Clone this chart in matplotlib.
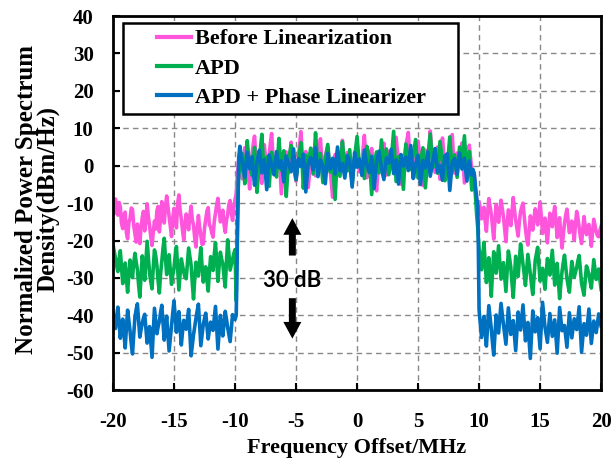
import numpy as np
import matplotlib.pyplot as plt
from matplotlib.legend_handler import HandlerLine2D

plt.rcParams['font.family'] = ['Liberation Serif', 'DejaVu Serif']
plt.rcParams['font.weight'] = 'bold'
plt.rcParams['axes.unicode_minus'] = False

# frequency grid of the analyser trace, MHz (0.1 MHz steps)
freq = np.linspace(-20, 20, 401)

# Before Linearization
before_lo = [-10.5, -12.8, -8.9, -11.6, -13.2, -9.8, -11.0, -15.4, -16.8, -13.1,
             -12.4, -17.9, -19.5, -15.2, -14.1, -11.3, -11.7, -16.0, -18.2, -20.4,
             -15.6, -18.3, -20.8, -16.5, -13.9, -12.2, -17.4, -14.7, -10.2, -13.6,
             -16.1, -19.0, -21.3, -17.8, -14.8, -16.9, -12.0, -10.9, -17.7, -14.3,
             -9.6, -12.5, -15.3, -11.2, -8.1, -10.7, -13.5, -16.2, -18.9, -14.0,
             -11.4, -13.8, -16.6, -10.1, -7.8, -11.9, -14.2, -17.3, -19.8, -15.5,
             -12.9, -15.0, -17.1, -13.4, -10.8, -14.4, -15.9, -19.3, -21.7, -17.0,
             -13.3, -16.3, -18.6, -21.0, -20.9, -16.7, -14.5, -12.1, -11.2, -15.8,
             -16.4, -18.0, -19.1, -14.9, -12.6, -10.4, -8.7, -11.8, -15.0, -13.7,
             -11.9, -15.6, -17.8, -14.6, -13.0, -10.3, -9.3, -12.7, -14.6, -11.5,
             -9.1]
before_edge_lo = [-7.5, -2.0, 1.5]
before_band = [2.1, -0.9, -3.5, 1.2, 4.8, 2.0, 0.6, -2.8, -6.2, -1.0,
               3.3, 5.9, 7.9, 2.7, -1.4, 0.3, 1.8, -2.2, -4.7, 0.9,
               5.6, 2.4, -0.8, 1.6, 2.9, 6.1, 8.6, 3.0, -2.3, -0.7,
               0.4, 3.2, 4.1, -1.8, -7.5, -3.1, 1.2, 2.8, 3.7, 0.1,
               -1.9, 2.5, 6.3, 3.4, 0.9, -1.7, -4.1, -0.6, 2.5, 5.8,
               9.1, 4.0, -0.3, 1.9, 3.8, -1.2, -5.8, -2.0, 1.5, 3.1,
               4.4, 0.8, -2.7, -0.9, 0.2, 4.3, 7.2, 2.2, -3.9, -0.4,
               2.6, 4.0, 5.1, 1.7, -1.1, -4.6, -8.4, -2.4, 3.0, 2.3,
               1.7, 0.4, -0.6, 3.1, 6.8, 2.6, -2.1, 0.7, 3.5, 1.9,
               0.8, -1.5, -4.4, -0.8, 2.2, 4.0, 5.9, 1.3, -1.6, -0.2,
               0.5, 4.6, 8.1, 2.9, -3.2, -0.5, 1.9, 3.3, 4.6, 1.4,
               -0.9, -3.6, -6.7, -1.9, 2.8, 1.0, 0.1, 3.2, 6.0, 2.1,
               -2.5, 0.6, 3.9, 2.2, 1.0, -0.4, -1.3, 3.0, 7.6, 4.1,
               2.4, -1.2, -4.9, -1.6, 0.7, 2.9, 5.3, 7.1, 8.9, 3.6,
               -0.4, 1.5, 3.1, 0.2, -2.9, 1.7, 6.6, 3.8, 1.4, -1.9,
               -5.3, -0.7, 4.2, 2.1, 0.3, 4.4, 9.3, 5.0, 2.0, 0.0,
               -1.8, 1.6, 5.0, 0.9, -3.6, 1.8, 7.4, 3.5, 1.1, 0.4,
               -0.2, 2.3, 4.5, 6.5, 8.3, 2.9, -2.0, 0.5, 3.4, 1.8,
               0.0, 3.2, 6.1, 0.8, -4.6, -0.8, 2.7, 4.0, 5.5, 2.3,
               -1.0, -2.5]
before_edge_hi = [-2.0, -6.0, -9.0, -10.5]
before_hi = [-9.6, -11.5, -14.2, -12.0, -11.1, -14.8, -17.5, -12.6, -8.8, -10.9,
             -12.9, -16.2, -19.6, -14.7, -10.4, -12.8, -15.1, -11.9, -9.2, -11.4,
             -13.7, -17.0, -20.3, -15.5, -11.8, -13.2, -16.0, -12.1, -8.5, -11.7,
             -14.6, -16.7, -18.8, -15.0, -12.3, -11.0, -10.0, -13.4, -16.9, -19.5,
             -21.2, -17.6, -13.4, -15.2, -17.2, -14.1, -11.5, -13.8, -15.8, -12.6,
             -9.7, -13.5, -18.1, -16.0, -14.0, -17.7, -20.6, -16.1, -12.7, -14.4,
             -16.3, -13.1, -10.9, -14.8, -19.2, -16.4, -13.9, -18.3, -22.0, -18.5,
             -15.4, -13.2, -11.6, -14.9, -17.9, -16.0, -14.8, -17.4, -19.9, -15.6,
             -12.2, -14.0, -16.6, -19.0, -20.8, -16.9, -13.6, -16.2, -18.4, -16.8,
             -15.7, -18.6, -21.5, -17.7, -14.3, -15.9, -17.6, -18.7, -19.0, -17.3,
             -16.2]

# APD
apd_lo = [-21.0, -22.9, -24.6, -26.8, -28.3, -25.1, -22.7, -27.0, -31.5, -28.4,
          -26.0, -30.2, -33.8, -29.1, -25.2, -27.6, -29.9, -26.1, -23.4, -25.7,
          -27.7, -31.8, -35.1, -29.4, -24.1, -27.0, -30.6, -25.3, -20.2, -24.5,
          -28.8, -31.0, -32.9, -27.2, -22.5, -24.0, -26.7, -30.8, -34.0, -29.0,
          -25.5, -22.1, -19.4, -24.6, -29.1, -26.3, -23.8, -28.0, -31.7, -29.2,
          -27.3, -24.0, -21.6, -27.5, -33.2, -28.9, -24.9, -26.6, -28.4, -29.8,
          -30.2, -26.0, -22.0, -24.3, -26.5, -31.4, -35.6, -30.3, -25.8, -27.6,
          -29.5, -25.4, -21.9, -26.8, -31.1, -28.7, -27.0, -30.5, -33.5, -28.6,
          -24.3, -26.2, -28.0, -23.7, -20.6, -25.5, -30.9, -26.8, -23.1, -24.9,
          -26.2, -29.6, -32.4, -25.7, -19.8, -23.6, -27.9, -26.4, -25.0, -23.5,
          -22.4]
apd_edge_lo = [-36.0, -14.0, -2.0]
apd_band = [-1.5, 1.0, 3.2, -0.6, -4.8, 0.9, 6.7, 3.1, 0.3, -1.4,
            -2.6, 1.5, 4.9, -0.8, -7.1, -2.9, 1.6, 5.2, 8.4, 2.7,
            -0.7, 0.9, 2.3, -1.9, -5.5, -0.9, 3.6, 2.2, 0.9, -1.2,
            -3.0, 2.1, 7.3, 2.8, -1.2, 1.3, 4.0, -2.4, -8.2, -2.8,
            2.0, 3.7, 5.4, 2.3, -0.5, -2.1, -3.8, -1.0, 1.3, 3.9,
            6.2, 0.5, -6.0, -1.6, 2.8, 1.5, 0.4, 2.6, 4.7, 1.1,
            -2.2, 3.4, 8.8, 4.0, -0.1, 1.6, 3.3, -0.7, -4.5, -1.3,
            1.8, 3.8, 5.7, 1.9, -1.7, -0.5, 0.6, -4.4, -9.0, -2.5,
            3.9, 0.6, -2.8, 1.8, 6.4, 3.1, 0.2, -0.6, -1.4, 1.5,
            4.3, -0.4, -5.1, -1.5, 2.1, 5.0, 7.8, 3.6, -0.3, 0.4,
            1.0, -1.2, -3.4, 0.9, 5.2, 3.9, 2.6, -2.6, -7.7, -3.4,
            0.8, 2.2, 3.7, 0.9, -1.9, 2.5, 6.9, 3.0, -0.8, 1.9,
            4.5, 1.0, -2.4, -0.5, 1.4, 5.3, 9.2, 2.5, -4.2, -0.9,
            2.4, 1.2, 0.0, -3.1, -6.3, -0.2, 5.8, 3.8, 1.7, 0.3,
            -1.0, 1.0, 3.0, 5.0, 7.0, 1.8, -3.3, -1.3, 0.7, 2.8,
            4.8, -0.5, -5.9, -1.8, 2.2, 5.4, 8.5, 3.9, -0.6, 1.5,
            3.5, 0.7, -2.0, 2.2, 6.5, 3.8, 1.2, -1.4, -4.0, -1.9,
            0.1, 3.9, 7.7, 3.1, -1.5, 0.7, 2.9, 0.0, -3.1, 0.9,
            5.0, 2.7, 0.5, 4.3, 8.0, 2.6, -2.7, 0.6, 3.8, -1.3,
            -6.5, -3.0]
apd_edge_hi = [-3.0, -8.0, -13.0, -17.0]
apd_hi = [-22.3, -25.1, -27.8, -23.9, -20.5, -25.9, -31.2, -27.7, -24.6, -29.8,
          -34.9, -28.6, -23.0, -25.8, -28.7, -24.9, -21.4, -25.7, -30.3, -28.1,
          -25.9, -29.8, -33.6, -28.0, -22.8, -24.7, -27.1, -31.4, -35.2, -29.5,
          -24.2, -26.8, -29.6, -25.1, -20.9, -23.4, -26.4, -29.0, -32.0, -27.7,
          -23.7, -26.2, -28.9, -31.8, -34.4, -29.7, -25.3, -23.5, -21.8, -26.3,
          -30.8, -28.9, -27.4, -30.4, -33.0, -28.6, -24.8, -26.9, -29.2, -25.8,
          -22.6, -27.1, -31.9, -28.8, -26.1, -30.9, -35.5, -31.6, -28.2, -25.9,
          -23.9, -27.0, -30.1, -32.1, -33.8, -29.5, -25.6, -27.7, -29.8, -28.4,
          -27.2, -25.4, -24.0, -27.9, -31.5, -33.1, -34.6, -30.5, -26.8, -27.8,
          -29.0, -31.0, -32.7, -28.8, -25.1, -27.7, -30.4, -28.9, -27.6, -30.5,
          -33.1]

# APD + Phase Linearizer
lin_lo = [-39.2, -41.5, -43.5, -40.4, -37.8, -42.0, -46.1, -43.3, -41.0, -45.0,
          -48.7, -43.4, -38.6, -41.3, -44.2, -47.6, -50.3, -45.1, -40.5, -38.4,
          -36.9, -41.5, -45.8, -43.8, -42.1, -40.7, -39.7, -43.6, -47.4, -45.0,
          -43.0, -47.2, -51.2, -44.4, -38.1, -41.5, -44.9, -43.0, -41.6, -39.2,
          -37.3, -42.1, -46.6, -43.2, -40.2, -45.0, -49.5, -46.0, -42.8, -39.3,
          -36.1, -40.4, -44.5, -41.6, -39.0, -43.6, -47.9, -44.4, -41.3, -42.6,
          -43.7, -41.0, -38.4, -44.7, -50.8, -47.9, -45.2, -42.9, -40.8, -38.8,
          -37.0, -42.6, -48.1, -45.2, -42.4, -40.9, -39.4, -43.0, -46.3, -43.9,
          -41.8, -43.0, -44.0, -40.8, -37.6, -43.4, -49.0, -44.4, -40.0, -42.9,
          -45.5, -42.2, -38.9, -41.0, -43.3, -45.2, -47.0, -43.3, -39.8, -40.4,
          -41.1]
lin_edge_lo = [-40.0, -18.0, 2.0]
lin_band = [5.2, 2.8, 1.0, -1.2, -3.1, 0.4, 3.6, 1.3, -0.8, 0.9,
            2.4, -1.6, -5.2, -2.1, 0.9, 2.6, 4.1, 1.0, -1.9, -0.1,
            1.7, -2.4, -6.4, -1.8, 2.9, 1.5, 0.2, -1.1, -2.4, 0.7,
            3.8, 1.6, -0.5, 0.4, 1.3, -1.5, -4.3, -0.8, 2.6, 1.4,
            0.4, -0.6, -1.6, 1.5, 4.5, 0.5, -3.6, -0.9, 1.9, 0.8,
            -0.2, 1.5, 3.1, -2.0, -7.0, -3.1, 0.8, 1.5, 2.2, 0.6,
            -1.1, 1.9, 4.8, 0.9, -2.9, -0.7, 1.5, 0.7, 0.0, -2.4,
            -4.8, -0.8, 3.3, 1.2, -0.9, 0.6, 2.0, 0.0, -2.2, 1.4,
            5.0, 1.8, -1.4, -0.4, 0.6, -1.4, -3.3, -0.3, 2.7, 1.9,
            1.1, -2.3, -5.7, -1.1, 3.5, 1.5, -0.4, 0.7, 1.8, -0.4,
            -2.6, 0.8, 4.2, 2.2, 0.3, -0.8, -1.8, 0.4, 2.5, -1.8,
            -6.1, -2.4, 1.2, 2.6, 3.9, 1.6, -0.7, -2.2, -3.7, -0.8,
            2.1, 1.4, 0.7, 2.6, 4.4, 1.2, -2.1, -0.3, 1.6, -1.7,
            -4.9, -0.9, 3.0, 1.4, -0.1, 1.1, 2.3, 0.5, -1.3, 2.0,
            5.4, 1.0, -3.4, -1.5, 0.5, 1.7, 2.8, -1.1, -5.0, -1.8,
            1.4, 0.4, -0.6, 1.6, 3.7, 0.5, -2.8, -0.9, 1.0, 2.8,
            4.6, 1.5, -1.7, -0.8, 0.1, -1.9, -3.9, -0.7, 2.6, 2.9,
            3.2, -1.7, -6.6, -2.9, 0.9, 1.4, 1.9, -0.2, -2.3, 0.6,
            3.4, 1.3, -0.9, 0.6, 2.0, -1.1, -4.1, -1.4, 1.3, -0.6,
            -2.5, -1.0]
lin_edge_hi = [-2.0, -5.5, -8.5, -11.0]
lin_hi = [-38.5, -42.3, -45.9, -43.0, -40.3, -44.5, -48.2, -42.6, -37.4, -40.6,
          -43.6, -47.3, -50.6, -45.0, -39.9, -42.4, -44.7, -40.8, -36.8, -39.7,
          -42.5, -45.2, -47.7, -42.7, -38.0, -41.6, -45.1, -43.3, -41.4, -45.5,
          -49.4, -44.1, -39.1, -41.5, -43.9, -40.6, -37.2, -42.1, -46.8, -44.2,
          -41.9, -46.8, -51.5, -45.1, -38.8, -41.7, -44.4, -42.5, -40.6, -44.8,
          -48.9, -42.6, -36.5, -39.8, -43.1, -45.2, -47.2, -43.3, -39.5, -42.6,
          -45.6, -43.4, -41.2, -45.7, -50.1, -44.0, -37.9, -41.0, -44.1, -43.3,
          -42.7, -45.6, -48.5, -44.0, -39.3, -42.7, -46.0, -43.5, -40.9, -42.4,
          -43.8, -40.8, -37.7, -43.8, -49.8, -46.0, -42.2, -43.7, -45.3, -41.8,
          -38.3, -42.9, -47.5, -44.5, -41.5, -43.0, -44.6, -42.2, -39.6, -41.3,
          -42.9]

before = before_lo + before_edge_lo + before_band + before_edge_hi + before_hi
apd = apd_lo + apd_edge_lo + apd_band + apd_edge_hi + apd_hi
lin = lin_lo + lin_edge_lo + lin_band + lin_edge_hi + lin_hi

fig = plt.figure(figsize=(6.14, 4.73), dpi=100)
ax = fig.add_axes([0.184, 0.175, 0.795, 0.791])

ax.plot(freq, before, color='#FF55DD', lw=2.6, label='Before Linearization')
ax.plot(freq, apd, color='#00B050', lw=2.6, label='APD')
ax.plot(freq, lin, color='#0070C0', lw=2.6, label='APD + Phase Linearizer')

ax.set_xlim(-20, 20)
ax.set_ylim(-60, 40)
ax.set_xticks(np.arange(-20, 21, 5))
ax.set_yticks(np.arange(-60, 41, 10))
ax.grid(True, color='#888888', ls=(0, (4, 3)), lw=1)
ax.tick_params(direction='in', length=5, width=1.5, labelsize=15,
               top=False, right=False)
ax.tick_params(axis='x', pad=16)
ax.tick_params(axis='y', pad=14)
for s in ax.spines.values():
    s.set_linewidth(2)

ax.set_xlabel('Frequency Offset/MHz', fontsize=16, fontweight='bold', labelpad=4)
ax.set_ylabel('Normalized Power Spectrum\nDensity(dBm/Hz)', fontsize=18,
              fontweight='bold', linespacing=0.9)
ax.yaxis.set_label_coords(-0.11, 0.51)

# 30 dB arrows
arrow = dict(arrowstyle='simple,head_width=0.65,head_length=0.6,tail_width=0.25',
             mutation_scale=20, lw=0, color='black', shrinkA=0, shrinkB=0)
ax.annotate('', xy=(-5.3, -14.0), xytext=(-5.3, -24.0), arrowprops=arrow)
ax.annotate('', xy=(-5.3, -46.2), xytext=(-5.3, -35.4), arrowprops=arrow)
ax.text(-5.3, -30.7, '30 dB', ha='center', va='center', fontsize=16,
        fontweight='bold', family='Lato')

leg = ax.legend(loc='upper left', bbox_to_anchor=(0.0205, 0.981, 0.6865, 0.0),
                mode='expand', fontsize=16, fancybox=False, framealpha=1,
                edgecolor='black', handlelength=2.8, borderpad=0.25,
                labelspacing=0.4, handletextpad=0.2, borderaxespad=0,
                handler_map={plt.Line2D: HandlerLine2D(xpad=1.3)})
leg.get_frame().set_linewidth(1.8)
for line in leg.get_lines():
    line.set_linewidth(3)

fig.savefig('out.png', dpi=100)
